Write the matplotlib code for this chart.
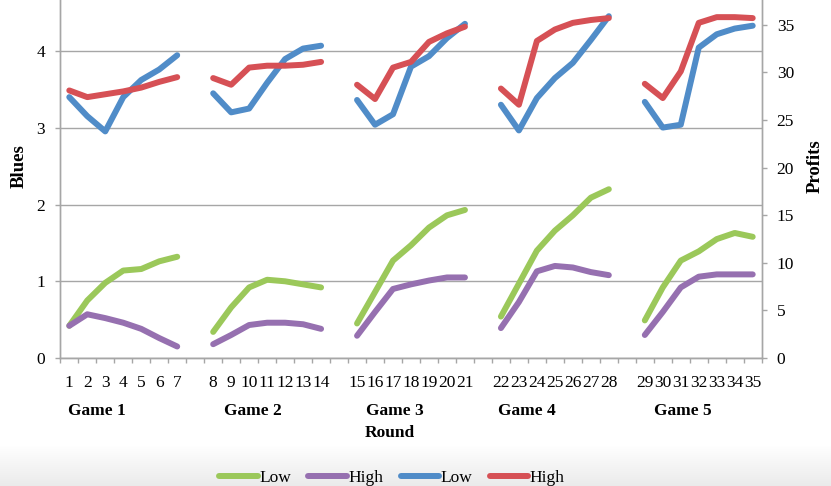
import numpy as np
import matplotlib
matplotlib.use("Agg")
import matplotlib.pyplot as plt

# ---------------- data ----------------
rounds = list(range(1, 36))
games = ["Game 1", "Game 2", "Game 3", "Game 4", "Game 5"]
low_blues = [0.42, 0.75, 0.98, 1.14, 1.16, 1.26, 1.32,
             0.34, 0.66, 0.92, 1.02, 1.00, 0.96, 0.92,
             0.45, 0.86, 1.27, 1.47, 1.70, 1.86, 1.93,
             0.54, 0.97, 1.40, 1.66, 1.86, 2.09, 2.20,
             0.49, 0.92, 1.27, 1.39, 1.55, 1.63, 1.58]
high_blues = [0.42, 0.57, 0.52, 0.46, 0.38, 0.26, 0.15,
              0.18, 0.30, 0.43, 0.46, 0.46, 0.44, 0.38,
              0.29, 0.60, 0.90, 0.96, 1.01, 1.05, 1.05,
              0.39, 0.73, 1.13, 1.20, 1.18, 1.12, 1.08,
              0.30, 0.60, 0.92, 1.06, 1.09, 1.09, 1.09]
low_profits = [27.4, 25.4, 23.8, 27.4, 29.2, 30.3, 31.8,
               27.8, 25.8, 26.2, 28.9, 31.4, 32.5, 32.8,
               27.1, 24.5, 25.6, 30.6, 31.7, 33.6, 35.1,
               26.6, 23.9, 27.3, 29.4, 31.0, 33.4, 35.9,
               26.9, 24.2, 24.5, 32.6, 34.0, 34.6, 34.9]
high_profits = [28.1, 27.4, 27.7, 28.0, 28.4, 29.0, 29.5,
                29.4, 28.7, 30.5, 30.7, 30.7, 30.8, 31.1,
                28.7, 27.2, 30.5, 31.1, 33.2, 34.1, 34.8,
                28.3, 26.6, 33.3, 34.5, 35.2, 35.5, 35.7,
                28.8, 27.3, 30.1, 35.2, 35.8, 35.8, 35.7]
left_ticks = [0, 1, 2, 3, 4]
right_ticks = [0, 5, 10, 15, 20, 25, 30, 35]

# ---------------- style ----------------
FONT = "Liberation Serif"
plt.rcParams["font.family"] = [FONT, "DejaVu Serif"]
GRAY = "#a6a6a6"
C_GREEN = "#9bc85a"
C_PURPLE = "#9670b0"
C_BLUE = "#508cc8"
C_RED = "#d65055"
LW = 4.3
FS = 12.5

W, H = 831, 486
fig = plt.figure(figsize=(W / 100, H / 100), dpi=100)
fig.patch.set_facecolor("white")

# gradient band at bottom
bg = fig.add_axes([0, 0, 1, 40 / H], zorder=-5)
grad = np.linspace(1.0, 0.92, 64).reshape(-1, 1)
bg.imshow(np.dstack([grad, grad, grad]), aspect="auto", extent=[0, 1, 0, 1])
bg.set_axis_off()

x0, x1 = 60.3, 761.7
ybot = 358.0
ax = fig.add_axes([x0 / W, 1 - ybot / H, (x1 - x0) / W, ybot / H])
ax2 = ax.twinx()

per_game = 7
pos = np.array([(r - 1) + (r - 1) // per_game for r in rounds], dtype=float)
ncat = len(rounds) + len(games) - 1

def plot_series(axis, vals, color, label):
    vals = np.asarray(vals)
    first = None
    for g in range(len(games)):
        sl = slice(g * per_game, (g + 1) * per_game)
        ln, = axis.plot(pos[sl], vals[sl], color=color, lw=LW,
                        solid_capstyle="round", solid_joinstyle="round",
                        label=label if g == 0 else "_nolegend_")
        if first is None:
            first = ln
    return first

h1 = plot_series(ax, low_blues, C_GREEN, "Low")
h2 = plot_series(ax, high_blues, C_PURPLE, "High")
h3 = plot_series(ax2, low_profits, C_BLUE, "Low")
h4 = plot_series(ax2, high_profits, C_RED, "High")

ax.set_xlim(-0.5, ncat - 0.5)
ax.set_ylim(0, 4.667)
ax2.set_ylim(0, 37.6)

ax.set_yticks(left_ticks)
ax2.set_yticks(right_ticks)
ax.yaxis.grid(True, color=GRAY, lw=1.0)
ax.set_axisbelow(True)

ax.set_xticks(np.arange(-0.5, ncat, 1.0))
ax.set_xticklabels([])
ax.set_xticks(pos, minor=True)
ax.set_xticklabels([str(r) for r in rounds], minor=True)
ax.tick_params(axis="x", which="major", length=3.8, width=1, color=GRAY, direction="out")
ax.tick_params(axis="x", which="minor", length=0, pad=12.5, labelsize=FS)
ax.tick_params(axis="y", length=3.8, width=1, color=GRAY, pad=7, labelsize=FS)
ax2.tick_params(axis="y", length=3.8, width=1, color=GRAY, pad=7, labelsize=FS)

for a in (ax, ax2):
    a.spines["top"].set_visible(False)
    for s in ("left", "right", "bottom"):
        a.spines[s].set_color(GRAY)
        a.spines[s].set_linewidth(1.0)
    a.patch.set_visible(False)

# axis titles
fig.text(19.5 / W, 1 - 166 / H, "Blues", rotation=90, ha="center", va="center",
         fontsize=13.5, fontweight="bold")
fig.text(815 / W, 1 - 166 / H, "Profits", rotation=90, ha="center", va="center",
         fontsize=13.5, fontweight="bold")

game_x = [96.7, 252.5, 394.5, 526.5, 683.3]
for gx, gname in zip(game_x, games):
    fig.text(gx / W, 1 - 415 / H, gname, ha="center", va="baseline",
             fontsize=FS, fontweight="bold")
fig.text(390 / W, 1 - 436.5 / H, "Round", ha="center", va="baseline",
         fontsize=FS, fontweight="bold")

leg = fig.legend(handles=[h1, h2, h3, h4], labels=["Low", "High", "Low", "High"],
                 loc="center", bbox_to_anchor=(392 / W, 1 - 477.5 / H), ncol=4,
                 frameon=False, fontsize=FS, handlelength=2.2, handletextpad=0.1,
                 columnspacing=1.0, borderpad=0, borderaxespad=0)

fig.savefig("out.png", dpi=100, facecolor="white")
